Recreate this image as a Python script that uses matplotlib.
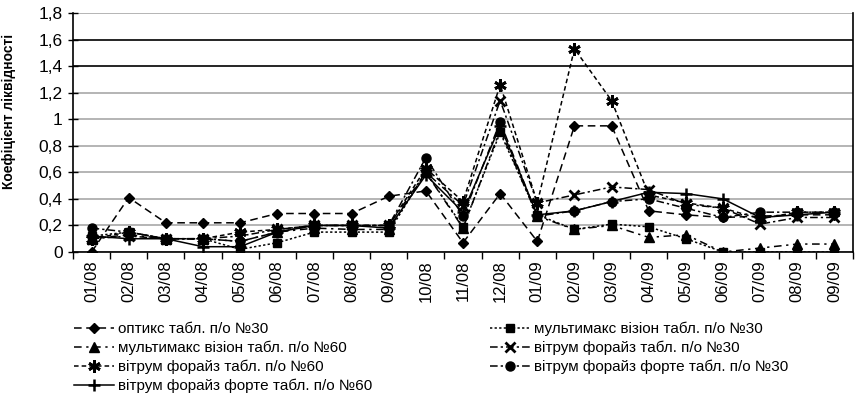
import matplotlib
matplotlib.use("Agg")
import matplotlib.pyplot as plt
from matplotlib.ticker import FixedLocator, FuncFormatter
import numpy as np

plt.rcParams['font.family'] = ['Liberation Sans', 'DejaVu Sans']

categories = ["01/08", "02/08", "03/08", "04/08", "05/08", "06/08", "07/08", "08/08",
              "09/08", "10/08", "11/08", "12/08", "01/09", "02/09", "03/09", "04/09",
              "05/09", "06/09", "07/09", "08/09", "09/09"]

optiks_30 = [0.0, 0.41, 0.22, 0.22, 0.22, 0.29, 0.29, 0.29, 0.42, 0.46, 0.07, 0.44, 0.08,
             0.95, 0.95, 0.31, 0.28, 0.26, 0.27, 0.28, 0.28]
multimax_30 = [0.12, 0.15, 0.10, 0.10, 0.02, 0.07, 0.15, 0.15, 0.15, 0.60, 0.19, 0.90, 0.28,
               0.17, 0.21, 0.19, 0.10, 0.0, 0.0, 0.0, 0.0]
multimax_60 = [0.10, 0.13, 0.10, 0.10, 0.08, 0.15, 0.18, 0.17, 0.17, 0.60, 0.18, 0.92, 0.27,
               0.17, 0.20, 0.11, 0.13, 0.0, 0.03, 0.06, 0.06]
vitrum_30 = [0.10, 0.12, 0.10, 0.10, 0.12, 0.17, 0.20, 0.20, 0.20, 0.60, 0.35, 1.14, 0.37,
             0.43, 0.49, 0.47, 0.36, 0.33, 0.21, 0.26, 0.26]
vitrum_60 = [0.10, 0.15, 0.10, 0.10, 0.15, 0.17, 0.20, 0.20, 0.20, 0.63, 0.38, 1.26, 0.37,
             1.53, 1.14, 0.43, 0.37, 0.33, 0.25, 0.30, 0.30]
forte_30 = [0.18, 0.15, 0.10, 0.10, 0.08, 0.15, 0.20, 0.20, 0.20, 0.71, 0.27, 0.98, 0.27,
            0.31, 0.38, 0.40, 0.33, 0.26, 0.30, 0.30, 0.30]
forte_60 = [0.12, 0.10, 0.10, 0.04, 0.04, 0.15, 0.20, 0.20, 0.18, 0.58, 0.30, 0.95, 0.28,
            0.31, 0.38, 0.45, 0.44, 0.40, 0.26, 0.28, 0.30]

labels = ["оптикс табл. п/о №30", "мультимакс візіон табл. п/о №30",
          "мультимакс візіон табл. п/о №60", "вітрум форайз табл. п/о №30",
          "вітрум форайз табл. п/о №60", "вітрум форайз форте табл. п/о №30",
          "вітрум форайз форте табл. п/о №60"]

y_ticks = [0, 0.2, 0.4, 0.6, 0.8, 1.0, 1.2, 1.4, 1.6, 1.8]

fig = plt.figure(figsize=(8.67, 4.16), dpi=100)
ax = fig.add_axes([0.0842, 0.3942, 0.8997, 0.5746])

x = np.arange(len(categories))
series = [optiks_30, multimax_30, multimax_60, vitrum_30, vitrum_60, forte_30, forte_60]
styles = [
    dict(marker='D', ms=5.5, dashes=(5, 3)),
    dict(marker='s', ms=6, dashes=(1.5, 1.5)),
    dict(marker='^', ms=6.5, dashes=(5, 3, 1.5, 3)),
    dict(marker='x', ms=7, mew=2, dashes=(5, 2, 1.5, 2)),
    dict(marker=(6, 2, 0), ms=9, mew=2, dashes=(3, 2)),
    dict(marker='o', ms=6.5, dashes=(5, 2, 1.5, 2)),
    dict(marker='+', ms=9, mew=1.8, linestyle='-'),
]
handles = []
for vals, lab, st in zip(series, labels, styles):
    h, = ax.plot(x, vals, color='black', lw=1.1, mfc='black', mec='black', label=lab, **st)
    handles.append(h)

ax.set_xlim(-0.5, len(categories) - 0.5)
ax.set_ylim(0, 1.8)
ax.yaxis.set_major_locator(FixedLocator(y_ticks))
ax.yaxis.set_major_formatter(FuncFormatter(lambda v, p: ('%g' % round(v, 1)).replace('.', ',')))
ax.grid(axis='y', color='#a8a8a8', lw=1.2)
for gl, v in zip(ax.yaxis.get_gridlines(), y_ticks):
    if abs(v - 1.4) < 1e-6 or abs(v - 1.6) < 1e-6:
        gl.set_color('black')
ax.set_axisbelow(True)

ax.set_xticks(x)
ax.set_xticklabels(categories, rotation=90, fontsize=12)
ax.set_xticks(np.arange(len(categories) + 1) - 0.5, minor=True)
ax.tick_params(axis='x', which='major', length=0, pad=6)
ax.tick_params(axis='x', which='minor', length=5, direction='out', width=1)
ax.tick_params(axis='y', direction='inout', length=7, width=1, labelsize=12.5, pad=4)

ax.spines['top'].set_visible(False)
for s in ['left', 'bottom', 'right']:
    ax.spines[s].set_linewidth(1.2)
    ax.spines[s].set_color('black')

ax.set_ylabel("Коефіцієнт ліквідності", fontsize=10, fontweight='bold')
ax.yaxis.set_label_coords(-0.073, 0.59)

order = [0, 2, 4, 6, 1, 3, 5]
fig.legend([handles[i] for i in order], [labels[i] for i in order],
           loc='upper left', bbox_to_anchor=(0.073, 0.252), ncol=2, frameon=False,
           fontsize=11, handlelength=2.6, handletextpad=0.3, columnspacing=7.7,
           labelspacing=0.3, borderpad=0.2)

fig.savefig("out.png", dpi=100)
